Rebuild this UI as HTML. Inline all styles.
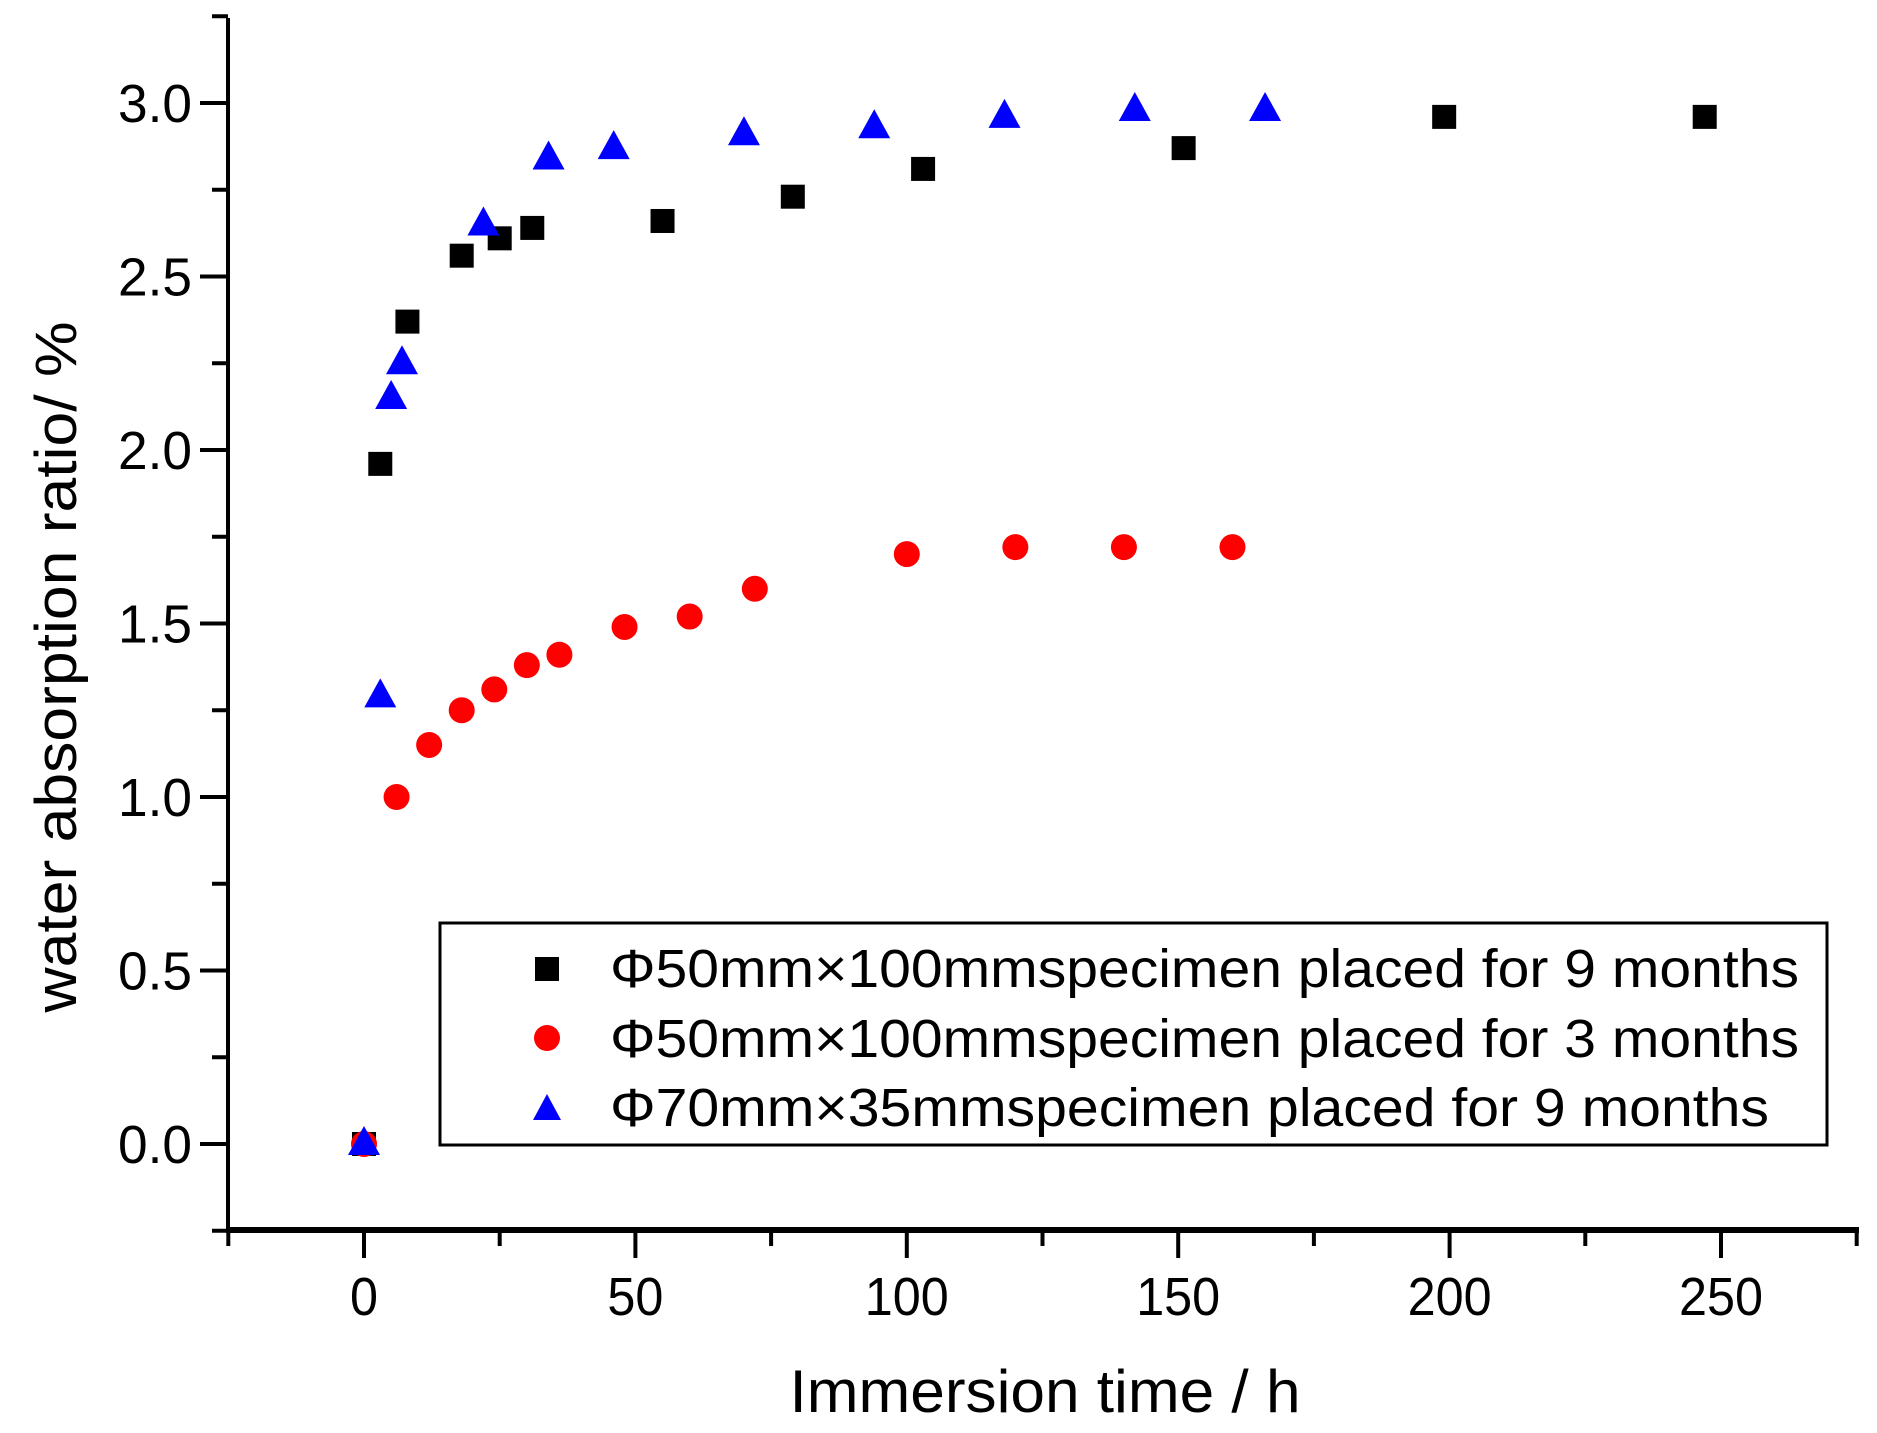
<!DOCTYPE html>
<html><head><meta charset="utf-8"><style>html,body{margin:0;padding:0;background:#fff}</style></head>
<body>
<svg width="1877" height="1428" viewBox="0 0 1877 1428" xmlns="http://www.w3.org/2000/svg" font-family="Liberation Sans, sans-serif">
<rect width="1877" height="1428" fill="#fff"/>
<g stroke="#000" stroke-width="4" fill="none">
<line x1="228" y1="18" x2="228" y2="1232"/>
<line x1="226" y1="1230" x2="1859" y2="1230" stroke-width="6"/>
</g>
<g id="ticks" stroke="#000" stroke-width="4"></g>
<g id="lab" font-size="54" fill="#000"></g>
<text x="1045" y="1412" font-size="60" text-anchor="middle" textLength="511" lengthAdjust="spacingAndGlyphs">Immersion time / h</text>
<text transform="translate(76,667) rotate(-90)" font-size="58" text-anchor="middle" textLength="691" lengthAdjust="spacingAndGlyphs">water absorption ratio/ %</text>
<g id="pts"></g>
<rect x="440" y="923" width="1387" height="222" fill="#fff" stroke="#000" stroke-width="3"/>
<rect x="535" y="957" width="24" height="24" fill="#000"/>
<circle cx="547" cy="1038" r="13" fill="#f00"/>
<polygon points="547,1094 561,1120 533,1120" fill="#00f"/>
<g font-size="54" fill="#000">
<text x="610" y="987" textLength="1189" lengthAdjust="spacingAndGlyphs">Φ50mm×100mmspecimen  placed for 9 months</text>
<text x="610" y="1057" textLength="1189" lengthAdjust="spacingAndGlyphs">Φ50mm×100mmspecimen  placed for 3 months</text>
<text x="610" y="1126" textLength="1159" lengthAdjust="spacingAndGlyphs">Φ70mm×35mmspecimen  placed for 9 months</text>
</g>
<script>
const X=v=>364+v*5.428, Y=v=>1144-v*347.0, ns="http://www.w3.org/2000/svg";
function el(p,t,a,txt){const e=document.createElementNS(ns,t);for(const k in a)e.setAttribute(k,a[k]);if(txt!=null)e.textContent=txt;document.getElementById(p).appendChild(e);}
for(let v=-25;v<=275;v+=25){const maj=v%50==0;el("ticks","line",{x1:X(v),y1:1230,x2:X(v),y2:1230+(maj?28:16)});if(maj&&v>=0)el("lab","text",{x:X(v),y:1315,"text-anchor":"middle",textLength:v>=100?84:(v>0?56:28),lengthAdjust:"spacingAndGlyphs"},String(v));}
for(let i=-1;i<=13;i++){const v=i*0.25,maj=i%2==0;el("ticks","line",{x1:228,y1:Y(v),x2:228-(maj?28:16),y2:Y(v)});if(maj&&i>=0)el("lab","text",{x:192,y:Y(v)+19,"text-anchor":"end",textLength:74,lengthAdjust:"spacingAndGlyphs"},v.toFixed(1));}
const sq=[[0,0],[3,1.96],[8,2.37],[18,2.56],[25,2.61],[31,2.64],[55,2.66],[79,2.73],[103,2.81],[151,2.87],[199,2.96],[247,2.96]];
const ci=[[0,0],[6,1.0],[12,1.15],[18,1.25],[24,1.31],[30,1.38],[36,1.41],[48,1.49],[60,1.52],[72,1.60],[100,1.70],[120,1.72],[140,1.72],[160,1.72]];
const tr=[[0,0],[3,1.29],[5,2.15],[7,2.25],[22,2.65],[34,2.84],[46,2.87],[70,2.91],[94,2.93],[118,2.96],[142,2.98],[166,2.98]];
sq.forEach(([a,b])=>el("pts","rect",{x:X(a)-12,y:Y(b)-12,width:24,height:24,fill:"#000"}));
ci.forEach(([a,b])=>el("pts","circle",{cx:X(a),cy:Y(b),r:13,fill:"#f00"}));
tr.forEach(([a,b])=>{const x=X(a),y=Y(b);el("pts","polygon",{points:`${x},${y-18} ${x+16},${y+11} ${x-16},${y+11}`,fill:"#00f"});});
</script>
</svg>
</body></html>
